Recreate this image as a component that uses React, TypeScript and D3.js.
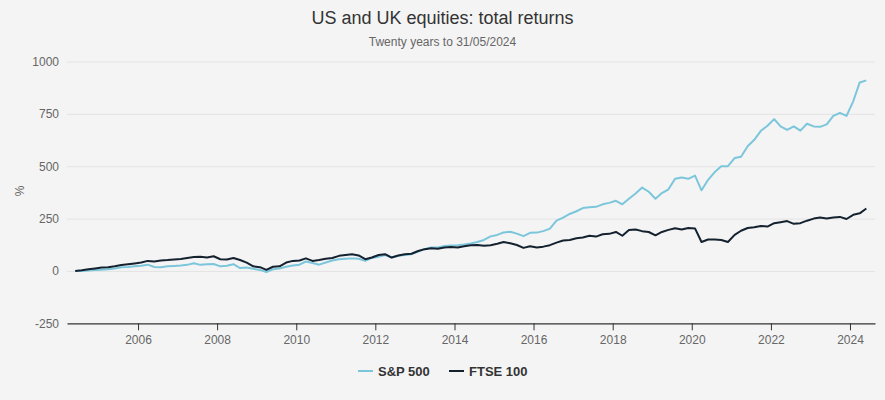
import React, { useRef, useEffect } from "react";
import * as d3 from "d3";

// every second month-end, 31/05/2004 .. 31/05/2024
const seriesNames = ["S&P 500", "FTSE 100"];
const seriesColors = ["#7cc6dc", "#14222f"];

const spValues = [
  0, 0, 2, 4, 6, 8, 12, 18, 19, 22, 25, 30, 19, 18, 22, 24, 26, 29, 37, 29,
  32, 33, 22, 25, 32, 14, 16, 10, 5, -5, 8, 12, 20, 26, 30, 45, 38, 30, 40, 50,
  56, 58, 60, 58, 48, 62, 68, 76, 64, 72, 76, 80, 92, 104, 112, 112, 119, 122,
  123, 126, 131, 138, 148, 165, 172, 184, 187, 178, 166, 182, 183, 190, 202,
  240, 255, 272, 285, 300, 304, 306, 318, 325, 335, 318, 345, 370, 398, 378,
  345, 372, 390, 440, 446, 440, 455, 385, 435, 472, 500, 500, 539, 545, 595,
  626, 669, 693, 725, 690, 674, 690, 670, 703, 690, 688, 700, 740, 755, 740,
  810, 900, 910,
];

const ftseValues = [
  0, 3, 8, 12, 16, 18, 22, 28, 32, 36, 40, 48, 45, 50, 52, 55, 57, 62, 66, 68,
  64, 70, 56, 55, 62, 52, 40, 22, 18, 5, 20, 22, 40, 48, 50, 60, 48, 52, 58, 62,
  72, 76, 80, 74, 56, 64, 76, 80, 64, 74, 80, 82, 95, 104, 108, 106, 112, 114,
  112, 118, 123, 124, 120, 123, 130, 138, 132, 124, 110, 118, 112, 116, 123,
  135, 145, 148, 156, 160, 168, 164, 175, 177, 186, 168, 195, 198, 190, 186,
  170, 186, 196, 204, 198, 205, 203, 138, 150, 150, 148, 138, 172, 192, 205,
  209, 215, 212, 228, 233, 238, 225, 228, 240, 250, 255, 250, 255, 258, 248,
  268, 275, 298,
];

const yTicks = [-250, 0, 250, 500, 750, 1000];
const xTickYears = [2006, 2008, 2010, 2012, 2014, 2016, 2018, 2020, 2022, 2024];

const App = () => {
  const chartRef = useRef<SVGSVGElement>(null);

  const width = 885,
    height = 400,
    marginLeft = 67,
    marginRight = 10,
    top = 61.5,
    bottom = 323.3;

  useEffect(() => {
    if (!chartRef.current) return;
    const svg = d3.select(chartRef.current);
    svg.selectAll("*").remove();

    const dates = spValues.map((_, i) => new Date(2004, 5 + 2 * i, 0));

    const x = d3
      .scaleTime()
      .domain([new Date(2004, 2, 16), new Date(2024, 7, 19)])
      .range([marginLeft, width - marginRight]);
    const y = d3.scaleLinear().domain([-250, 1000]).range([bottom, top]);

    svg
      .append("rect")
      .attr("width", width)
      .attr("height", height)
      .attr("fill", "#f4f4f4");

    svg
      .append("text")
      .attr("x", width / 2)
      .attr("y", 24)
      .attr("text-anchor", "middle")
      .attr("fill", "#333")
      .style("font-size", "18px")
      .text("US and UK equities: total returns");

    svg
      .append("text")
      .attr("x", width / 2)
      .attr("y", 46)
      .attr("text-anchor", "middle")
      .attr("fill", "#666")
      .style("font-size", "12px")
      .text("Twenty years to 31/05/2024");

    // grid + y labels
    const yAxis = svg
      .append("g")
      .attr("transform", `translate(${marginLeft},0)`)
      .call(
        d3
          .axisLeft(y)
          .tickValues(yTicks)
          .tickFormat((d) => String(d))
          .tickSize(-(width - marginRight - marginLeft))
          .tickPadding(8)
      );
    yAxis.select(".domain").remove();
    yAxis
      .selectAll("line")
      .attr("stroke", (d) => (d === -250 ? "none" : "#e3e3e3"));
    yAxis
      .selectAll("text")
      .attr("fill", "#666")
      .style("font-size", "12px")
      .style("font-family", "'Liberation Sans', Arial, sans-serif");

    svg
      .append("text")
      .attr("transform", `translate(24,191) rotate(-90)`)
      .attr("text-anchor", "middle")
      .attr("fill", "#666")
      .style("font-size", "12px")
      .text("%");

    // x axis
    const xAxis = svg
      .append("g")
      .attr("transform", `translate(0,${bottom})`)
      .call(
        d3
          .axisBottom(x)
          .tickValues(xTickYears.map((yr) => new Date(yr, 0, 1)))
          .tickFormat((d) => d3.timeFormat("%Y")(d as Date))
          .tickSizeOuter(0)
          .tickSizeInner(7)
          .tickPadding(5)
      );
    xAxis.select(".domain").attr("stroke", "#333").attr("stroke-width", 1.2);
    xAxis.selectAll("line").attr("stroke", "#333");
    xAxis
      .selectAll("text")
      .attr("fill", "#666")
      .style("font-size", "12px")
      .style("font-family", "'Liberation Sans', Arial, sans-serif");

    const line = d3
      .line<number>()
      .x((_, i) => x(dates[i]))
      .y((d) => y(d));

    [spValues, ftseValues].forEach((vals, k) => {
      svg
        .append("path")
        .datum(vals)
        .attr("fill", "none")
        .attr("stroke", seriesColors[k])
        .attr("stroke-width", 2)
        .attr("stroke-linejoin", "round")
        .attr("d", line);
    });

    // legend
    const legendX = [358, 449];
    seriesNames.forEach((name, k) => {
      const g = svg
        .append("g")
        .attr("transform", `translate(${legendX[k]},371)`);
      g.append("line")
        .attr("x1", 0)
        .attr("x2", 15)
        .attr("stroke", seriesColors[k])
        .attr("stroke-width", 2);
      g.append("text")
        .attr("x", 20)
        .attr("y", 4.5)
        .attr("fill", "#333")
        .style("font-size", "13px")
        .style("font-weight", "bold")
        .text(name);
    });
  }, []);

  return (
    <svg
      ref={chartRef}
      width={width}
      height={height}
      style={{
        position: "absolute",
        left: 0,
        top: 0,
        fontFamily: "'Liberation Sans', Arial, sans-serif",
      }}
    ></svg>
  );
};

export default App;
